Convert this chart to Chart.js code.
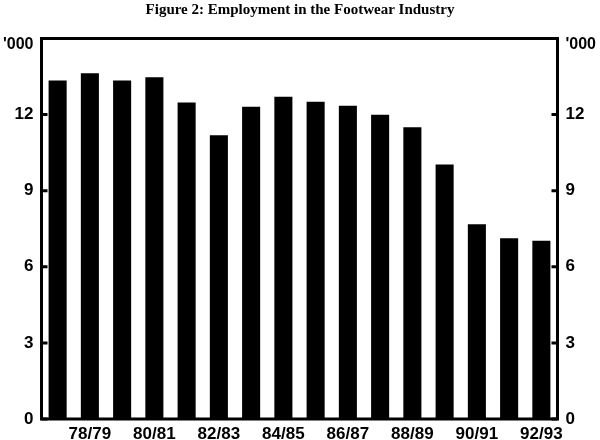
<!DOCTYPE html>
<html>
<head>
<meta charset="utf-8">
<script src="https://cdn.jsdelivr.net/npm/chart.js@4"></script>
<style>
  html, body { margin: 0; padding: 0; background: #fff; }
  #wrap { width: 600px; height: 440px; }
</style>
</head>
<body>
<div id="wrap"><canvas id="chart" width="600" height="440"></canvas></div>
<script>
const seasons = ["77/78","78/79","79/80","80/81","81/82","82/83","83/84","84/85",
                 "85/86","86/87","87/88","88/89","89/90","90/91","91/92","92/93"];
const employment = [13.34, 13.63, 13.34, 13.47, 12.48, 11.19, 12.31, 12.70,
                    12.51, 12.35, 11.99, 11.50, 10.03, 7.68, 7.13, 7.03];
const yTicks = [0, 3, 6, 9, 12, 15];

const axisFont = { family: "'Liberation Sans', Arial, sans-serif", size: 17, weight: "bold" };

// frame, inside ticks and the '000 unit labels
const framePlugin = {
  id: "frame",
  afterDraw(chart) {
    const { ctx, chartArea: a, scales } = chart;
    ctx.save();
    ctx.strokeStyle = "#000";
    ctx.lineWidth = 3;
    ctx.strokeRect(a.left, a.top, a.right - a.left, a.bottom - a.top);
    ctx.beginPath();
    for (const v of yTicks) {
      const y = scales.y.getPixelForValue(v);
      ctx.moveTo(a.left, y); ctx.lineTo(a.left + 6, y);
      ctx.moveTo(a.right - 6, y); ctx.lineTo(a.right, y);
    }
    ctx.stroke();
    ctx.fillStyle = "#000";
    ctx.font = "bold 16px 'Liberation Sans', Arial, sans-serif";
    ctx.textBaseline = "middle";
    const yTop = scales.y.getPixelForValue(15) + 6;
    ctx.textAlign = "right";
    ctx.fillText("'000", a.left - 8, yTop);
    ctx.textAlign = "left";
    ctx.fillText("'000", a.right + 8, yTop);
    ctx.restore();
  }
};

const yAxis = (pos, w) => ({
  type: "linear",
  position: pos,
  min: 0, max: 15,
  grid: { display: false, drawTicks: false },
  border: { display: false },
  ticks: {
    stepSize: 3, padding: 8, color: "#000", font: axisFont,
    callback: (v) => (v === 15 ? "" : v)
  },
  afterFit: (s) => { s.width = w; }
});

new Chart(document.getElementById("chart"), {
  type: "bar",
  data: {
    labels: seasons,
    datasets: [{ data: employment, backgroundColor: "#000", barPercentage: 0.56, categoryPercentage: 1 }]
  },
  options: {
    responsive: false,
    animation: false,
    layout: { padding: 0 },
    plugins: {
      legend: { display: false },
      tooltip: { enabled: false },
      title: {
        display: true,
        text: "Figure 2: Employment in the Footwear Industry",
        color: "#000",
        font: { family: "'Liberation Serif', 'Times New Roman', serif", size: 15, weight: "bold" },
        padding: { top: 1, bottom: 19.5 }
      }
    },
    scales: {
      x: {
        grid: { display: false, drawTicks: false },
        border: { display: false },
        ticks: {
          autoSkip: false, maxRotation: 0, padding: 5, color: "#000", font: axisFont,
          callback: (v, i) => (i % 2 === 1 ? seasons[i] : "")
        },
        afterFit: (s) => { s.height = 21; }
      },
      y: yAxis("left", 41.5),
      y2: yAxis("right", 42.5)
    }
  },
  plugins: [framePlugin]
});
</script>
</body>
</html>
